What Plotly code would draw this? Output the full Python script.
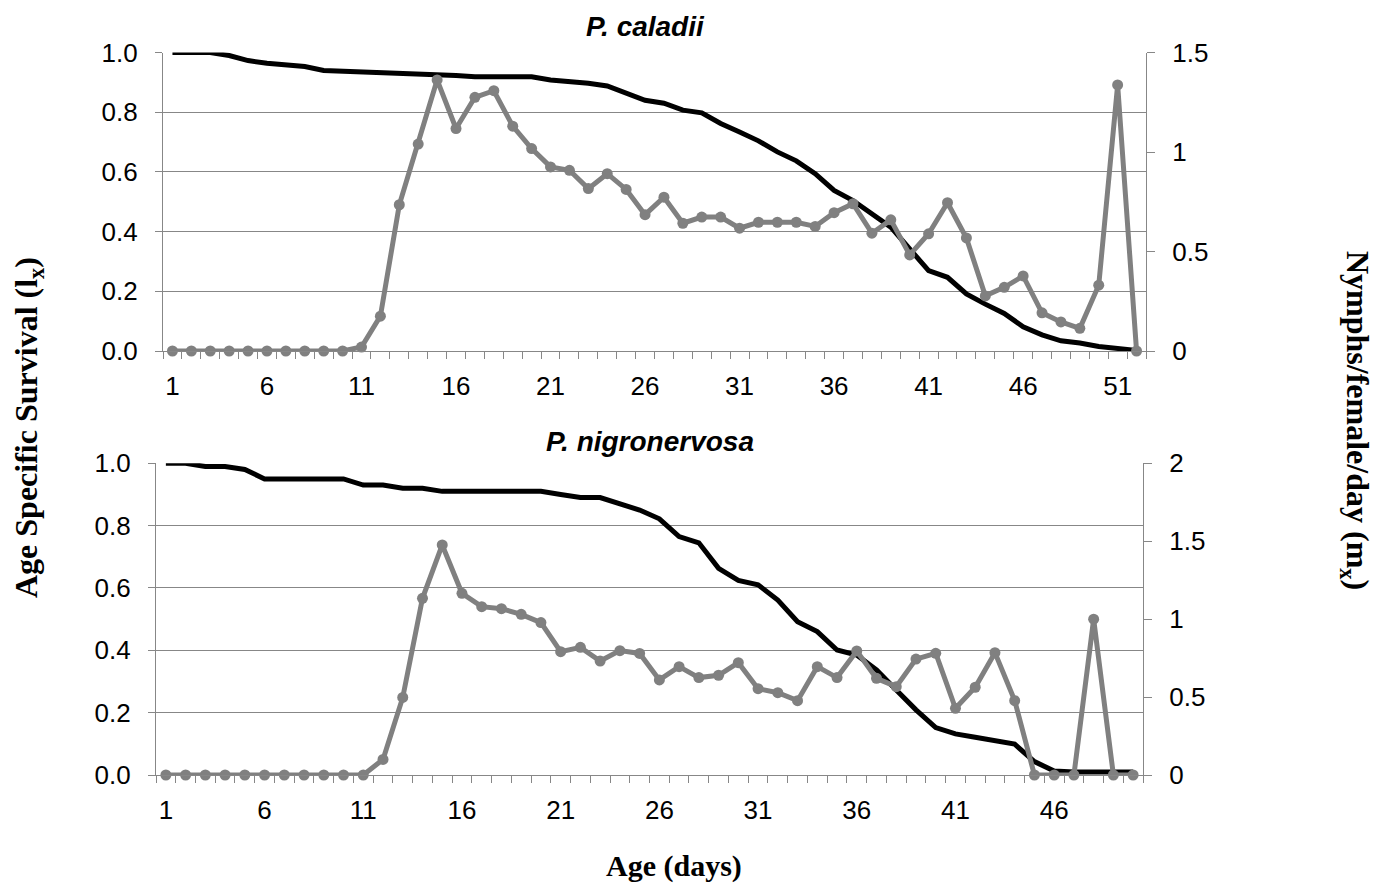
import plotly.graph_objects as go

# ---------------- data ----------------
days_top = list(range(1, 53))
lx_top = [1.0, 1.0, 1.0, 0.99, 0.973, 0.964, 0.958, 0.953, 0.94, 0.938,
          0.934, 0.934, 0.93, 0.928, 0.926, 0.923, 0.919, 0.919, 0.919, 0.919,
          0.908, 0.904, 0.897, 0.888, 0.863, 0.84, 0.83, 0.807, 0.798, 0.762,
          0.734, 0.704, 0.667, 0.637, 0.594, 0.538, 0.504, 0.46, 0.415, 0.342,
          0.269, 0.247, 0.191, 0.157, 0.126, 0.081, 0.054, 0.034, 0.027, 0.015,
          0.009, 0.002]
mx_top = [0, 0, 0, 0, 0, 0, 0, 0, 0, 0,
          0.02, 0.175, 0.735, 1.04, 1.362, 1.118, 1.275, 1.308, 1.13, 1.017,
          0.925, 0.908, 0.816, 0.891, 0.812, 0.685, 0.773, 0.642, 0.673, 0.673,
          0.617, 0.647, 0.647, 0.647, 0.626, 0.695, 0.74, 0.592, 0.659, 0.483,
          0.589, 0.745, 0.568, 0.277, 0.32, 0.377, 0.192, 0.146, 0.114, 0.331,
          1.337, 0]

days_bot = list(range(1, 51))
lx_bot = [1.0, 1.0, 0.99, 0.99, 0.98, 0.95, 0.95, 0.95, 0.95, 0.95,
          0.93, 0.93, 0.92, 0.92, 0.91, 0.91, 0.91, 0.91, 0.91, 0.91,
          0.90, 0.89, 0.89, 0.87, 0.85, 0.822, 0.765, 0.745, 0.663, 0.624,
          0.61, 0.561, 0.492, 0.46, 0.401, 0.385, 0.337, 0.273, 0.209, 0.152,
          0.132, 0.121, 0.11, 0.099, 0.043, 0.013, 0.01, 0.01, 0.01, 0.01]
mx_bot = [0, 0, 0, 0, 0, 0, 0, 0, 0, 0,
          0, 0.1, 0.498, 1.134, 1.476, 1.166, 1.08, 1.067, 1.031, 0.978,
          0.791, 0.819, 0.731, 0.798, 0.78, 0.61, 0.695, 0.625, 0.64, 0.721,
          0.554, 0.528, 0.477, 0.695, 0.625, 0.796, 0.62, 0.567, 0.744, 0.781,
          0.428, 0.563, 0.785, 0.477, 0, 0, 0, 1.0, 0, 0]

x_ticks_top = list(range(1, 53, 5))
x_ticks_bot = list(range(1, 51, 5))

title_top = "P. caladii"
title_bot = "P. nigronervosa"
ytitle_left = "Age Specific Survival (l<sub>x</sub>)"
ytitle_right = "Nymphs/female/day (m<sub>x</sub>)"
xtitle = "Age (days)"

# ---------------- style ----------------
W, H = 1382, 887
GRID = "#878787"
GRAY = "#808080"
TICKFONT = dict(family="Arial, Liberation Sans, sans-serif", size=26, color="#000000")
YTITLEFONT = dict(family="Times New Roman, Liberation Serif, serif", size=32, color="#000000")
XTITLEFONT = dict(family="Times New Roman, Liberation Serif, serif", size=30, color="#000000")
PANELFONT = dict(family="Arial, Liberation Sans, sans-serif", size=28, color="#000000")


def px_x(p):
    return p / W


def px_y(p):
    return (H - p) / H


fig = go.Figure()

fig.add_trace(go.Scatter(x=days_top, y=lx_top, mode="lines", xaxis="x", yaxis="y",
                         line=dict(color="#000000", width=5), cliponaxis=False,
                         showlegend=False))
fig.add_trace(go.Scatter(x=days_top, y=mx_top, mode="lines+markers", xaxis="x", yaxis="y2",
                         line=dict(color=GRAY, width=5), marker=dict(color=GRAY, size=11),
                         cliponaxis=False, showlegend=False))
fig.add_trace(go.Scatter(x=days_bot, y=lx_bot, mode="lines", xaxis="x2", yaxis="y3",
                         line=dict(color="#000000", width=5), cliponaxis=False,
                         showlegend=False))
fig.add_trace(go.Scatter(x=days_bot, y=mx_bot, mode="lines+markers", xaxis="x2", yaxis="y4",
                         line=dict(color=GRAY, width=5), marker=dict(color=GRAY, size=11),
                         cliponaxis=False, showlegend=False))

xcommon = dict(showgrid=False, zeroline=False, showline=True, linecolor=GRID, linewidth=1.3,
               ticks="", tickfont=TICKFONT, fixedrange=True, automargin=False,
               ticklabelstandoff=12,
               minor=dict(ticks="outside", tick0=0.5, dtick=1, ticklen=7,
                          tickcolor=GRID, tickwidth=1.3, showgrid=False))
yleft = dict(showgrid=True, gridcolor=GRID, gridwidth=1.3, zeroline=False, showline=True,
             linecolor=GRID, linewidth=1.3, ticks="outside", ticklen=7, tickcolor=GRID,
             tickwidth=1.3, tickfont=TICKFONT, range=[0, 1], dtick=0.2, tick0=0,
             tickformat=".1f", fixedrange=True, automargin=False, ticklabelstandoff=12)
yright = dict(showgrid=False, zeroline=False, showline=True, linecolor=GRID, linewidth=1.3,
              ticks="outside", ticklen=8, tickcolor=GRID, tickwidth=1.3, tickfont=TICKFONT,
              side="right", dtick=0.5, tick0=0, fixedrange=True, automargin=False,
              ticklabelstandoff=12)

fig.update_layout(
    width=W, height=H,
    margin=dict(l=0, r=0, t=0, b=0, pad=0, autoexpand=False),
    paper_bgcolor="white", plot_bgcolor="white",
    xaxis=dict(xcommon, domain=[px_x(163), px_x(1146)], range=[0.5, 52.5],
               tickvals=x_ticks_top, ticktext=[str(v) for v in x_ticks_top], anchor="y"),
    yaxis=dict(yleft, domain=[px_y(351), px_y(52.5)], anchor="x"),
    yaxis2=dict(yright, overlaying="y", anchor="x", range=[0, 1.5]),
    xaxis2=dict(xcommon, domain=[px_x(156), px_x(1143)], range=[0.5, 50.5],
                tickvals=x_ticks_bot, ticktext=[str(v) for v in x_ticks_bot], anchor="y3"),
    yaxis3=dict(yleft, domain=[px_y(775), px_y(463.3)], anchor="x2"),
    yaxis4=dict(yright, overlaying="y3", anchor="x2", range=[0, 2]),
    annotations=[
        dict(text="<b><i>" + title_top + "</i></b>", x=px_x(645), y=px_y(27),
             xref="paper", yref="paper", xanchor="center", yanchor="middle", showarrow=False,
             font=PANELFONT),
        dict(text="<b><i>" + title_bot + "</i></b>", x=px_x(650), y=px_y(441),
             xref="paper", yref="paper", xanchor="center", yanchor="middle", showarrow=False,
             font=PANELFONT),
        dict(text="<b>" + ytitle_left + "</b>", x=px_x(28), y=px_y(428),
             xref="paper", yref="paper", xanchor="center", yanchor="middle", showarrow=False,
             textangle=-90, font=YTITLEFONT),
        dict(text="<b>" + ytitle_right + "</b>", x=px_x(1356), y=px_y(420),
             xref="paper", yref="paper", xanchor="center", yanchor="middle", showarrow=False,
             textangle=90, font=YTITLEFONT),
        dict(text="<b>" + xtitle + "</b>", x=px_x(674), y=px_y(866),
             xref="paper", yref="paper", xanchor="center", yanchor="middle", showarrow=False,
             font=XTITLEFONT),
    ],
)

fig.write_html("out.html")
